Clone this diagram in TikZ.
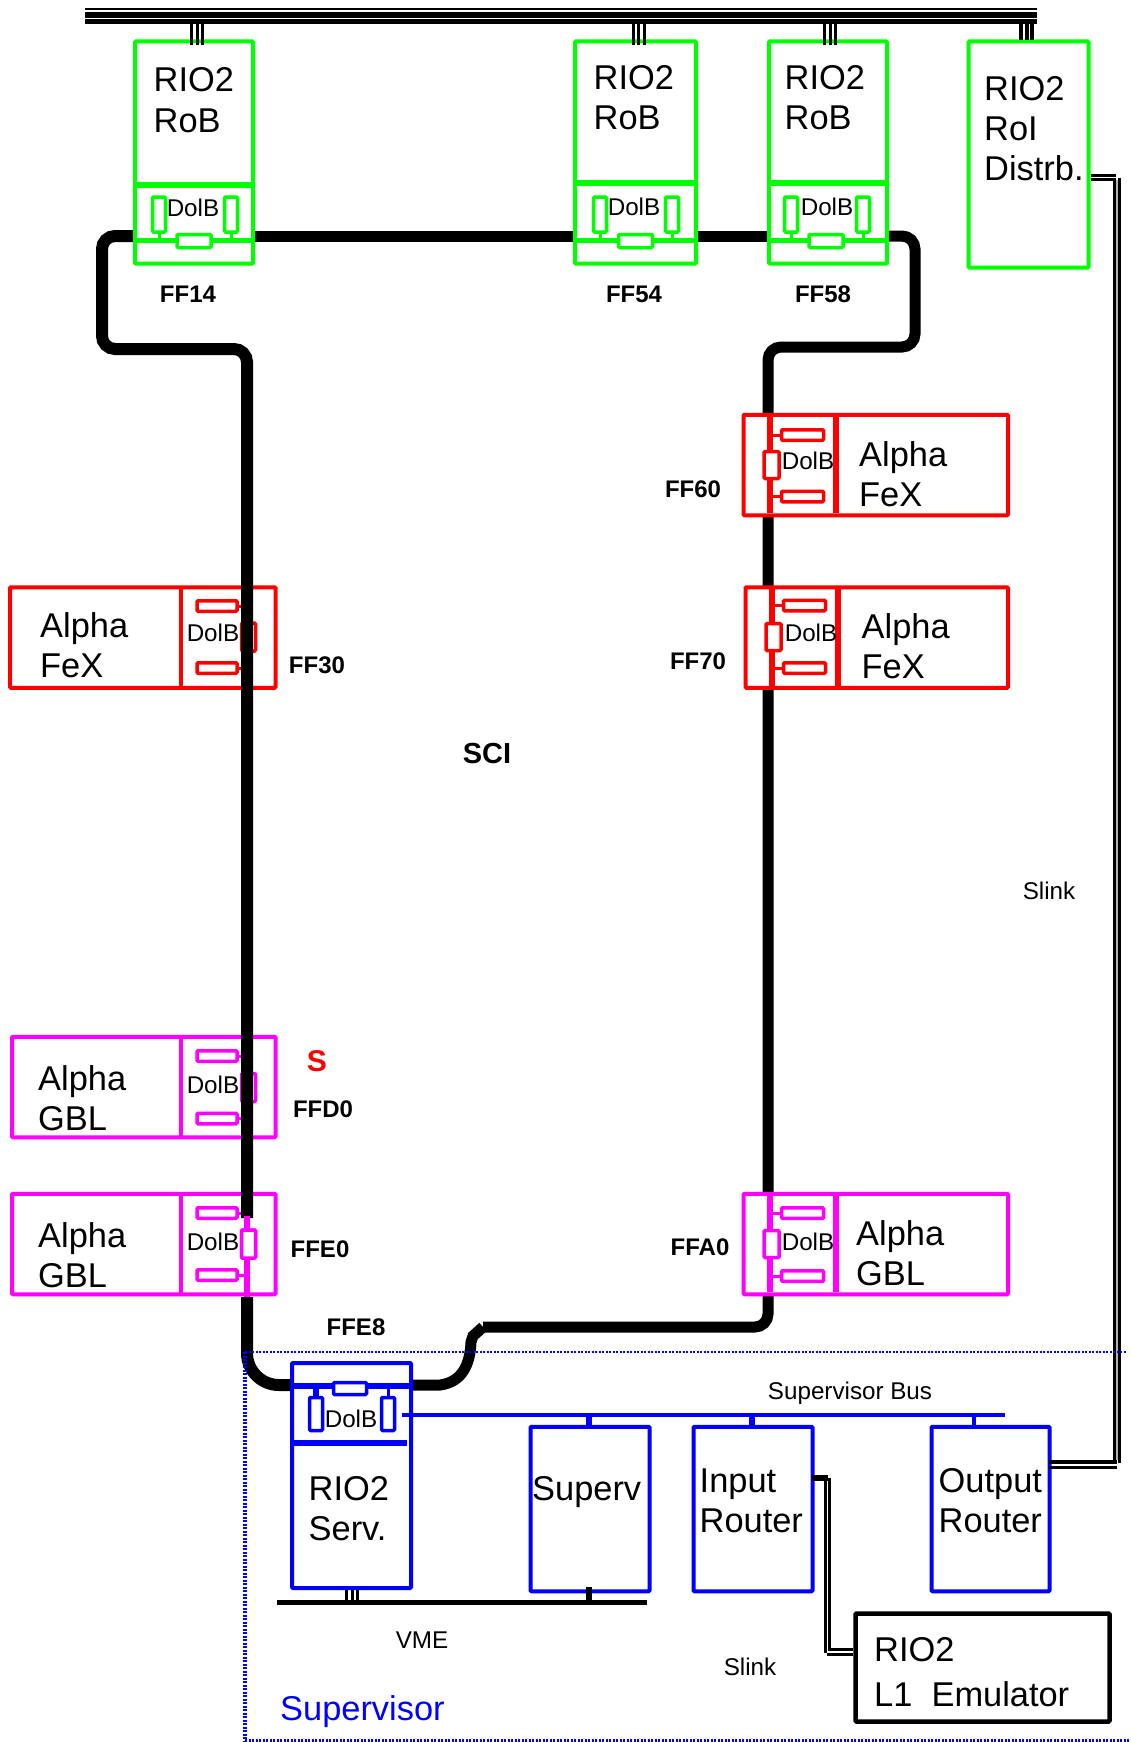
\documentclass[tikz,border=0pt]{standalone}
\usepackage{fontspec}
\setmainfont{Liberation Sans}
\definecolor{fuchsia}{RGB}{255,0,255}
\begin{document}
\begin{tikzpicture}[
    x=1pt, y=-1pt,
    box/.style={draw=#1, fill=white, line width=4pt, rounded corners=1pt, inner sep=0pt},
    pad/.style={draw=#1, fill=white, line width=3.5pt, rounded corners=1pt, inner sep=0pt},
    stub/.style={draw=#1, line width=3pt},
    barre/.style={draw=#1, line width=5.5pt},
    ring/.style={line width=12pt, rounded corners=13pt},
    wire/.style={line width=3pt},
    frame/.style={draw=blue, dash pattern=on 2pt off 1.5pt},
    titre/.style={font=\fontsize{34.4}{40}\selectfont, align=left, inner sep=0pt, anchor=base west},
    dolb/.style={font=\fontsize{24.2}{26}\selectfont, inner sep=0pt, anchor=base},
    addr/.style={font=\fontsize{24}{26}\selectfont\bfseries, inner sep=0pt, anchor=base}
]
    \useasboundingbox (0,0) rectangle (1130,1742);

    % top bus
    \foreach \y/\w in {9/2.6, 15/6, 21.5/5}
        \draw[line width=\w pt] (85,\y) -- (1037,\y);

    % boards left of the ring
    \foreach \n/\c/\m/\l/\yc/\pa/\pb/\v/\db/\tb/\tx in {
        30/red/FeX/10/637.5/606/668/637/641/677/40,
        D0/fuchsia/GBL/12/1087/1056/1118.5/1087.5/1093/1130/38,
        E0/fuchsia/GBL/12/1244/1213/1275/1244/1250/1287/38} {
        \node[box=\c, minimum width=275.5-\l, minimum height=100.5] (b\n) at ({(\l+275.5)/2},\yc) {};
        \draw[barre=\c, line width=4.5pt] (181,\yc-49.5) -- (181,\yc+49.5);
        \node[pad=\c, minimum width=40, minimum height=10.5] (pa\n) at (217,\pa) {};
        \node[pad=\c, minimum width=40, minimum height=10.5] (pb\n) at (217,\pb) {};
        \node[pad=\c, minimum width=14, minimum height=28] (pv\n) at (248.5,\v) {};
        \draw[stub=\c] (pa\n.east) -- +(8,0);
        \draw[stub=\c] (pb\n.east) -- +(8,0);
        \node[dolb] (d\n) at (213,\db) {DolB};
        \node[titre] (t\n) at (\tx,\tb) {Alpha\\\m};
    }

    % ring
    \draw[ring] (134,236) -- (102,236) -- (102,349) -- (247,349) -- (247,1218);
    \draw[ring, rounded corners=32pt] (247,1297) -- (247,1385) -- (293,1385);
    \draw[line width=11pt] (254,236) -- (574,236);
    \draw[line width=11pt] (696,236) -- (768,236);
    \draw[ring, line width=11pt] (887,236) -- (915,236) -- (915,347) -- (768,347) -- (768,1327) -- (483,1327);
    \draw[line width=11pt] (411,1385) -- (440,1385) .. controls (462,1382) and (470,1365) .. (471,1342) -- (473,1336) -- (483,1327);

    % FFE0 sits on the ring
    \draw[barre=fuchsia] (247,1216) -- (247,1297);
    \node[pad=fuchsia, minimum width=14, minimum height=28] (pwE0) at (248.5,1244) {};

    % RoB boards
    \foreach \n/\l/\r/\pa/\pb/\ph/\dx/\dy/\tx/\tb/\dv/\s/\ax in {
        14/135/253/159/231/194/193/216/153.5/132/185/197/188,
        54/575/696/600/672/635.5/634/215/593.5/130/183/638.5/634,
        58/769/887/791/863/826/827/215/784.5/130/183/830/823} {
        \node[box=green, minimum width=\r-\l, minimum height=222] (rob\n) at ({(\l+\r)/2},152.5) {};
        \draw[barre=green] (\l,\dv) -- (\r-2,\dv);
        \draw[barre=green, line width=5pt] (\l,240) -- (\r,240);
        \node[pad=green, minimum width=34, minimum height=13] (ph\n) at (\ph,241) {};
        \node[pad=green, minimum width=13, minimum height=35] (pl\n) at (\pa,214.5) {};
        \node[pad=green, minimum width=13, minimum height=35] (pr\n) at (\pb,214.5) {};
        \draw[stub=green] (pl\n.south) -- +(0,6);
        \draw[stub=green] (pr\n.south) -- +(0,6);
        \node[dolb] (d\n) at (\dx,\dy) {DolB};
        \node[titre] (t\n) at (\tx,\tb) {RIO2\\RoB};
        \node[addr] (a\n) at (\ax,302) {FF\n};
        \foreach \d in {-5.5,0,5.5}
            \draw[wire] ({\s+\d},22) -- +(0,23);
    }

    % RoI board and its slink
    \node[box=green, minimum width=120, minimum height=226] (roi) at (1028.5,154.5) {};
    \node[titre] (troi) at (984,180) {RIO2\\RoI\\Distrb.};
    \foreach \d in {-5.5,0,5.5}
        \draw[line width=4pt] ({1026.5+\d},20) -- +(0,20);
    \draw[wire] (roi.east |- 0,175) -- (1116,175);
    \draw[wire] (1119,178) -- (1119,1463);
    \draw[wire] (roi.east |- 0,179) -- (1114,179) -- (1114,1462);
    \draw[line width=2pt, black!30] (1116.5,180) -- (1116.5,1460);

    % boards right of the ring
    \foreach \n/\c/\m/\l/\yc/\bx/\pa/\pb/\px/\v/\dv/\dx/\db/\tx/\tb/\ax/\ay in {
        60/red/FeX/743.5/465/770/435/496.5/802.5/465/836/808/469/859/506/693/497,
        70/red/FeX/745.5/637.5/772/605.5/668/804.5/637/838/811/641/861.5/678/698/669,
        A0/fuchsia/GBL/743.5/1244/770/1213/1276/802.5/1244/836/808/1250/856/1285/700/1255} {
        \node[box=\c, minimum width=1008-\l, minimum height=100.5] (b\n) at ({(\l+1008)/2},\yc) {};
        \draw[barre=\c] (\dv,\yc-49.5) -- (\dv,\yc+48);
        \draw[barre=\c] (\bx,\yc-50.5) -- (\bx,\yc+48);
        \node[pad=\c, minimum width=42, minimum height=10.5] (pa\n) at (\px,\pa) {};
        \node[pad=\c, minimum width=42, minimum height=10.5] (pb\n) at (\px,\pb) {};
        \node[pad=\c, minimum width=15, minimum height=27] (pv\n) at (\bx+1.5,\v) {};
        \draw[stub=\c] (pa\n.west) -- (\bx,\pa);
        \draw[stub=\c] (pb\n.west) -- (\bx,\pb);
        \node[dolb] (d\n) at (\dx,\db) {DolB};
        \node[titre] (t\n) at (\tx,\tb) {Alpha\\\m};
        \node[addr] (a\n) at (\ax,\ay) {FF\n};
    }

    % addresses of the left boards
    \node[addr] (a30) at (317,673) {FF30};
    \node[addr] (aD0) at (323,1117) {FFD0};
    \node[addr] (aE0) at (320,1257) {FFE0};
    \node[addr] (aE8) at (356,1335) {FFE8};
    \node[addr, text=red, font=\fontsize{30}{32}\selectfont\bfseries] (s) at (317,1071) {S};
    \node[addr, font=\fontsize{29}{32}\selectfont\bfseries] (sci) at (487,763) {SCI};

    % supervisor crate
    \node[box=blue, minimum width=119, minimum height=225] (serv) at (351.5,1475.5) {};
    \draw[barre=blue] (serv.west |- 0,1386) -- (serv.east |- 0,1386);
    \draw[barre=blue] (serv.west |- 0,1443) -- (407,1443);
    \node[pad=blue, minimum width=33, minimum height=12] (ph) at (350,1388.5) {};
    \node[pad=blue, minimum width=13, minimum height=33] (pl) at (316,1414) {};
    \node[pad=blue, minimum width=13, minimum height=33] (pr) at (388,1414) {};
    \draw[stub=blue, line width=6pt] (pl.north) -- +(0,-9);
    \draw[stub=blue] (pr.north) -- +(0,-9);
    \node[dolb] (dserv) at (351,1427) {DolB};
    \node[titre] (tserv) at (308.5,1540) {RIO2\\Serv.};

    \node[box=blue, minimum width=119, minimum height=164.5] (sup) at (590,1509) {};
    \node[titre] (tsup) at (532,1500) {Superv};
    \node[box=blue, minimum width=119, minimum height=164.5] (inr) at (753,1509) {};
    \node[titre] (tinr) at (699.5,1532) {Input\\Router};
    \node[box=blue, minimum width=118, minimum height=164.5] (outr) at (990.5,1509) {};
    \node[titre] (toutr) at (938.5,1532) {Output\\Router};
    \node[box=black, line width=4.5pt, minimum width=254, minimum height=108] (emu) at (982.5,1667.5) {};
    \node[titre] (temu) at (874,1706) {RIO2\\[5pt]L1\ \ Emulator};

    % supervisor bus and VME
    \draw[blue, line width=4pt] (402,1415) -- (1005,1415);
    \draw[stub=blue, line width=6pt] (sup.north -| 589,0) -- (589,1415);
    \draw[stub=blue, line width=6pt] (inr.north -| 752,0) -- (752,1415);
    \draw[stub=blue, line width=4pt] (outr.north -| 974,0) -- (974,1415);
    \node[dolb] (busl) at (850,1399) {Supervisor Bus};
    \draw[line width=5pt] (277,1602) -- (647,1602);
    \draw[line width=6pt] (589,1587) -- (589,1602);
    \foreach \x in {346,352,357.5}
        \draw[wire] (\x,1590) -- (\x,1602);
    \node[dolb] (vme) at (422,1648.5) {VME};

    % slinks
    \draw[line width=4pt] (outr.east |- 0,1462) ++(-3,0) -- (1117,1462);
    \draw[wire] (outr.east |- 0,1467) ++(-3,0) -- (1117,1467);
    \draw[line width=6.5pt] (812,1478) -- (828,1478);
    \draw[wire] (825,1478) -- (825,1653);
    \draw[wire] (829,1478) -- (829,1649) -- (emu.west |- 0,1649);
    \draw[wire] (827,1654) -- (emu.west |- 0,1654);
    \node[dolb] (sl1) at (1049,899) {Slink};
    \node[dolb] (sl2) at (750,1675) {Slink};

    % supervisor frame
    \draw[frame, line width=2pt] (245,1352) -- (1127,1352);
    \draw[frame, line width=4pt] (245,1352) -- (245,1741);
    \draw[frame, line width=3pt] (245,1740) -- (1130,1740);
    \node[titre, text=blue] (tframe) at (280,1720) {Supervisor};
\end{tikzpicture}
\end{document}
